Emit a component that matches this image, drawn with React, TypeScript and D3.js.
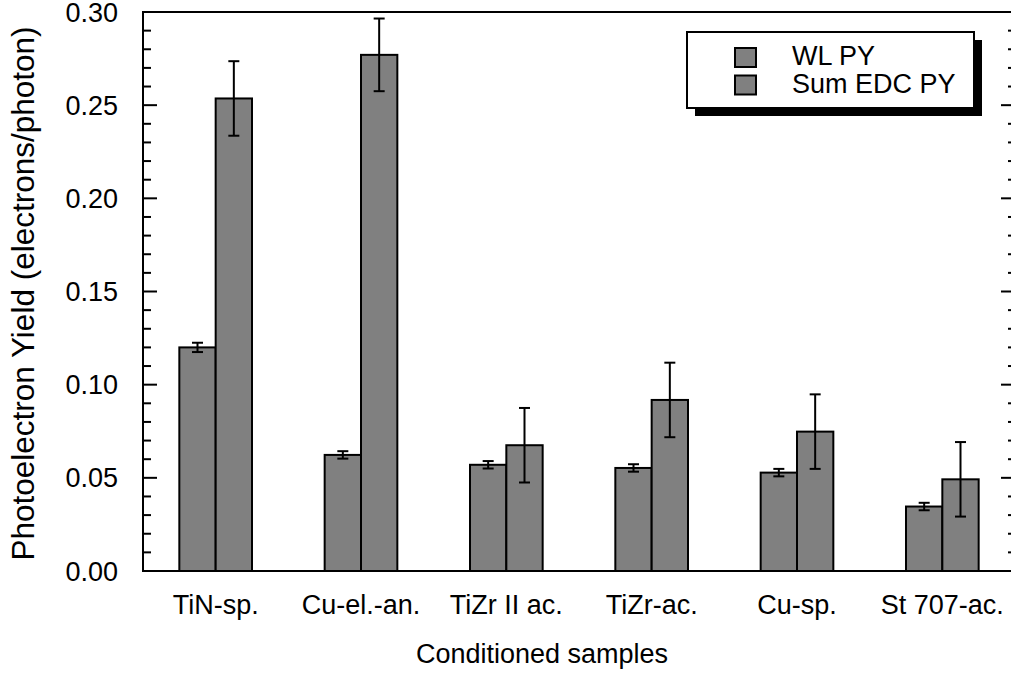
import React from "react";
import * as d3 from "d3";

const categories = ["TiN-sp.", "Cu-el.-an.", "TiZr II ac.", "TiZr-ac.", "Cu-sp.", "St 707-ac."];
const seriesNames = ["WL PY", "Sum EDC PY"];
const wlPY = [0.120, 0.0623, 0.0570, 0.0553, 0.0528, 0.0346];
const wlErr = [0.0025, 0.002, 0.002, 0.002, 0.002, 0.002];
const sumPY = [0.2536, 0.277, 0.0675, 0.0918, 0.0748, 0.0492];
const sumErr = [0.020, 0.0195, 0.020, 0.020, 0.020, 0.020];
const yMajorTicks = [0, 0.05, 0.1, 0.15, 0.2, 0.25, 0.3];
const yTickLabels = ["0.00", "0.05", "0.10", "0.15", "0.20", "0.25", "0.30"];

const W = 1011;
const H = 675;
const left = 143;
const right = 1015;
const top = 12;
const bottom = 571;
const FILL = "#808080";
const FONT = "'Liberation Sans', Arial, Helvetica, sans-serif";

export default function App() {
  const x = d3.scaleBand<string>().domain(categories).range([left, right]).paddingInner(0.5).paddingOuter(0.25).align(0.5);
  const xi = d3.scaleBand<string>().domain(["wl", "sum"]).range([0, x.bandwidth()]).padding(0);
  const y = d3.scaleLinear().domain([0, 0.3]).range([bottom, top]);
  const minorTicks = d3.range(0, 31).map((i) => i / 100).filter((v, i) => i % 5 !== 0);

  const series = [
    { key: "wl", vals: wlPY, errs: wlErr },
    { key: "sum", vals: sumPY, errs: sumErr },
  ];
  const capW = 11;

  return (
    <svg width={W} height={H} style={{ position: "absolute", left: 0, top: 0, background: "#fff" }} fontFamily={FONT}>
      <rect x={0} y={0} width={W} height={H} fill="#fff" />
      {/* bars */}
      {series.map((s) =>
        categories.map((c, i) => {
          const bx = (x(c) as number) + (xi(s.key) as number);
          return (
            <rect key={s.key + c} x={bx} y={y(s.vals[i])} width={xi.bandwidth()} height={y(0) - y(s.vals[i])}
              fill={FILL} stroke="#000" strokeWidth={2} />
          );
        })
      )}
      {/* error bars */}
      {series.map((s) =>
        categories.map((c, i) => {
          const cx = (x(c) as number) + (xi(s.key) as number) + xi.bandwidth() / 2;
          const hi = y(s.vals[i] + s.errs[i]);
          const lo = y(s.vals[i] - s.errs[i]);
          return (
            <g key={"e" + s.key + c} stroke="#000" strokeWidth={2}>
              <line x1={cx} x2={cx} y1={hi} y2={lo} />
              <line x1={cx - capW / 2} x2={cx + capW / 2} y1={hi} y2={hi} />
              <line x1={cx - capW / 2} x2={cx + capW / 2} y1={lo} y2={lo} />
            </g>
          );
        })
      )}
      {/* frame */}
      <line x1={left} x2={right} y1={top} y2={top} stroke="#000" strokeWidth={2} />
      <line x1={left} x2={right} y1={bottom} y2={bottom} stroke="#000" strokeWidth={2} />
      <line x1={left} x2={left} y1={top - 1} y2={bottom + 1} stroke="#000" strokeWidth={2} />
      <line x1={right} x2={right} y1={top - 1} y2={bottom + 1} stroke="#000" strokeWidth={2} />
      {/* ticks */}
      {yMajorTicks.map((t, i) => (
        <g key={"M" + i} stroke="#000" strokeWidth={2}>
          <line x1={left} x2={left + 14} y1={y(t)} y2={y(t)} />
          <line x1={right - 14} x2={right} y1={y(t)} y2={y(t)} />
        </g>
      ))}
      {minorTicks.map((t, i) => (
        <g key={"m" + i} stroke="#000" strokeWidth={2}>
          <line x1={left} x2={left + 8} y1={y(t)} y2={y(t)} />
          <line x1={right - 7} x2={right} y1={y(t)} y2={y(t)} />
        </g>
      ))}
      {yMajorTicks.map((t, i) => (
        <text key={"yl" + i} x={118} y={y(t) + 9.5} textAnchor="end" fontSize={27} fill="#000">
          {yTickLabels[i]}
        </text>
      ))}
      {categories.map((c) => (
        <text key={"xl" + c} x={(x(c) as number) + x.bandwidth() / 2} y={614} textAnchor="middle" fontSize={27} fill="#000">
          {c}
        </text>
      ))}
      <text x={542} y={663} textAnchor="middle" fontSize={27} fill="#000">Conditioned samples</text>
      <text transform={`translate(34,${(22 + 565) / 2}) rotate(-90)`} textAnchor="middle" fontSize={31.5} fill="#000">
        Photoelectron Yield (electrons/photon)
      </text>
      {/* legend */}
      <rect x={695} y={40} width={287} height={76} fill="#000" />
      <rect x={687} y={32} width={287} height={76} fill="#fff" stroke="#000" strokeWidth={2} />
      {seriesNames.map((n, i) => (
        <g key={"lg" + n}>
          <rect x={735} y={48 + i * 27.5} width={21} height={19} fill={FILL} stroke="#000" strokeWidth={2} />
          <text x={792} y={65 + i * 27.5} fontSize={27} fill="#000">{n}</text>
        </g>
      ))}
    </svg>
  );
}
